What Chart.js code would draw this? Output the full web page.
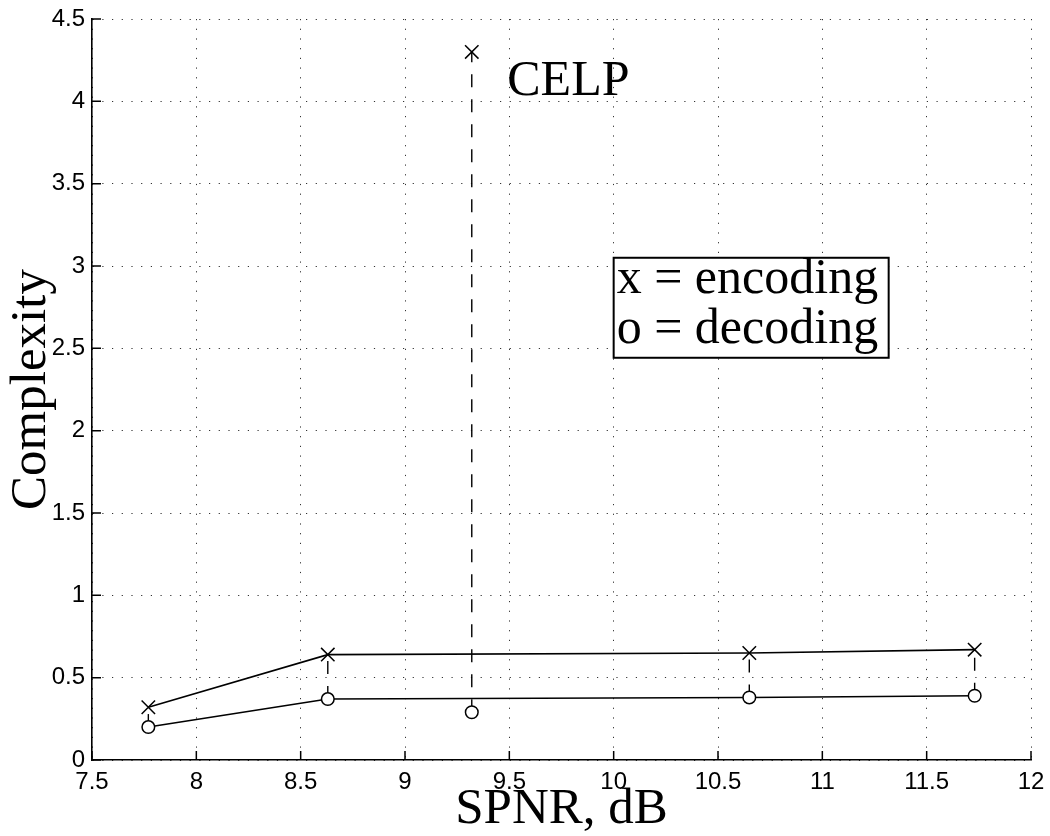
<!DOCTYPE html>
<html>
<head>
<meta charset="utf-8">
<script src="https://cdn.jsdelivr.net/npm/chart.js@4/dist/chart.umd.min.js"></script>
<style>
  html, body { margin: 0; padding: 0; background: #fff; }
  #wrap { width: 1050px; height: 836px; }
</style>
</head>
<body>
<div id="wrap"><canvas id="chart" width="1050" height="836"></canvas></div>
<script>
// Data
const spnr = [7.77, 8.63, 10.65, 11.73];          // SPNR, dB
const encoding = [0.32, 0.64, 0.65, 0.67];        // x markers
const decoding = [0.20, 0.37, 0.38, 0.39];        // o markers
const celpSpnr = 9.32;
const celpEncoding = 4.30;
const celpDecoding = 0.29;

const xTicks = [7.5, 8, 8.5, 9, 9.5, 10, 10.5, 11, 11.5, 12];
const yTicks = [0, 0.5, 1, 1.5, 2, 2.5, 3, 3.5, 4, 4.5];

const xTitle = "SPNR, dB";
const yTitle = "Complexity";
const celpLabel = "CELP";
const legendLines = ["x = encoding", "o = decoding"];

const serif = "'Liberation Serif', 'Times New Roman', serif";
const sans = "'Liberation Sans', Arial, sans-serif";

const toPts = (xs, ys) => xs.map((x, i) => ({ x: x, y: ys[i] }));

// vertical dashed connectors between encoding and decoding at each SPNR
const connectors = spnr.concat([celpSpnr]).map((x, i) => {
  const lo = i < spnr.length ? decoding[i] : celpDecoding;
  const hi = i < spnr.length ? encoding[i] : celpEncoding;
  return {
    data: [{ x: x, y: lo }, { x: x, y: hi }],
    showLine: true,
    borderColor: "#000",
    borderWidth: 1.4,
    borderDash: [13, 12],
    pointRadius: 0
  };
});

const markerBase = {
  borderColor: "#000",
  backgroundColor: "#fff",
  pointBorderColor: "#000",
  pointBackgroundColor: "#fff",
  pointBorderWidth: 1.5,
  borderWidth: 1.6
};

// inner tick marks, axis titles, annotations
const extras = {
  id: "extras",
  afterDraw(chart) {
    const ctx = chart.ctx;
    const xs = chart.scales.x, ys = chart.scales.y;
    const area = chart.chartArea;
    ctx.save();
    ctx.strokeStyle = "#000";
    ctx.lineWidth = 1.5;
    ctx.beginPath();
    xTicks.forEach(v => {
      const px = xs.getPixelForValue(v);
      ctx.moveTo(px, area.bottom);
      ctx.lineTo(px, area.bottom - 9);
    });
    yTicks.forEach(v => {
      const py = ys.getPixelForValue(v);
      ctx.moveTo(area.left, py);
      ctx.lineTo(area.left + 9, py);
    });
    ctx.stroke();

    ctx.fillStyle = "#000";
    ctx.font = "51px " + serif;
    // x title
    ctx.textAlign = "center";
    ctx.textBaseline = "alphabetic";
    ctx.fillText(xTitle, (area.left + area.right) / 2, 823);
    // y title
    ctx.save();
    ctx.translate(45, (area.top + area.bottom) / 2);
    ctx.rotate(-Math.PI / 2);
    ctx.fillText(yTitle, 0, 0);
    ctx.restore();

    // CELP label
    ctx.textAlign = "left";
    ctx.font = "50px " + serif;
    ctx.fillText(celpLabel, xs.getPixelForValue(9.49), ys.getPixelForValue(4.04));

    // legend box
    const bx = xs.getPixelForValue(10.0), by = ys.getPixelForValue(3.05);
    ctx.fillStyle = "#fff";
    ctx.fillRect(bx, by, 275, 100);
    ctx.lineWidth = 2;
    ctx.strokeRect(bx, by, 275, 100);
    ctx.fillStyle = "#000";
    legendLines.forEach((t, i) => ctx.fillText(t, bx + 3, by + 35 + i * 50, 268));
    ctx.restore();
  }
};

new Chart(document.getElementById("chart"), {
  type: "scatter",
  data: {
    datasets: [
      Object.assign({ data: toPts(spnr, encoding), showLine: true, pointStyle: "crossRot", pointRadius: 9.5 }, markerBase),
      Object.assign({ data: toPts(spnr, decoding), showLine: true, pointStyle: "circle", pointRadius: 6.3 }, markerBase),
      Object.assign({ data: [{ x: celpSpnr, y: celpEncoding }], showLine: false, pointStyle: "crossRot", pointRadius: 9.5 }, markerBase),
      Object.assign({ data: [{ x: celpSpnr, y: celpDecoding }], showLine: false, pointStyle: "circle", pointRadius: 6.3 }, markerBase)
    ].concat(connectors)
  },
  options: {
    responsive: false,
    animation: false,
    layout: { padding: { left: 0, right: 19, top: 19, bottom: 0 } },
    plugins: { legend: { display: false }, tooltip: { enabled: false } },
    elements: { line: { tension: 0 } },
    scales: {
      x: {
        type: "linear",
        min: 7.5, max: 12,
        afterFit: s => { s.height = 76; s.paddingRight = 0; s.paddingLeft = 0; },
        afterBuildTicks: s => { s.ticks = xTicks.map(v => ({ value: v })); },
        ticks: { font: { family: sans, size: 24 }, color: "#000", padding: 8, maxRotation: 0, autoSkip: false,
                 callback: v => String(v) },
        grid: { color: "#333", lineWidth: 1, drawTicks: false },
        border: { display: true, color: "#000", width: 1.6, dash: [1.2, 8.5] }
      },
      y: {
        type: "linear",
        min: 0, max: 4.5,
        afterFit: s => { s.width = 92; s.paddingTop = 0; s.paddingBottom = 0; },
        afterBuildTicks: s => { s.ticks = yTicks.map(v => ({ value: v })); },
        ticks: { font: { family: sans, size: 24 }, color: "#000", padding: 7, autoSkip: false,
                 callback: v => String(v) },
        grid: { color: "#333", lineWidth: 1, drawTicks: false },
        border: { display: true, color: "#000", width: 1.6, dash: [1.2, 8.5] }
      }
    }
  },
  plugins: [extras]
});
</script>
</body>
</html>
